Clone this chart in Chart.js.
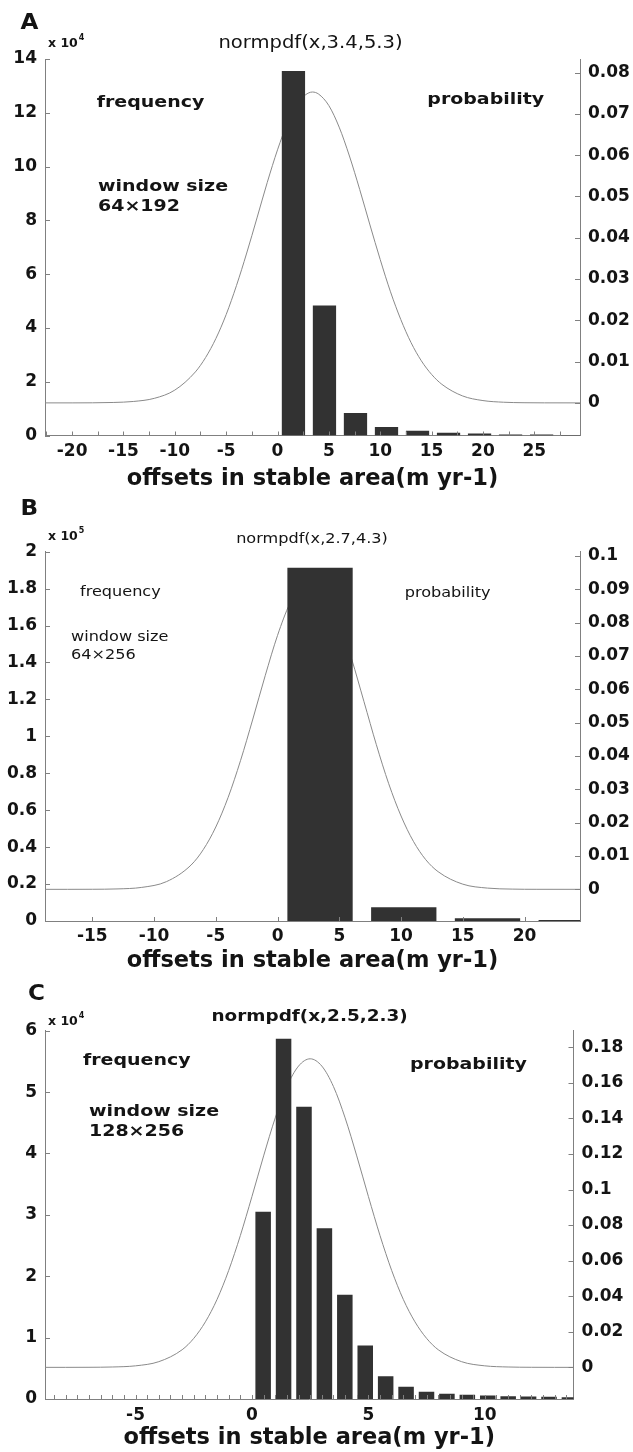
<!DOCTYPE html>
<html>
<head>
<meta charset="utf-8">
<title>offsets in stable area</title>
<script src="https://cdn.jsdelivr.net/npm/chart.js@4.4.0/dist/chart.umd.min.js"></script>
<style>
  html, body { margin: 0; padding: 0; background: #fff; }
  canvas { display: block; }
</style>
</head>
<body>
<canvas id="panelA" width="633" height="493"></canvas>
<canvas id="panelB" width="633" height="482"></canvas>
<canvas id="panelC" width="633" height="477"></canvas>
<script>
// ---- panel A: window 64x192, counts in units of 1e4 ----
const binsA = [1.55, 4.57, 7.59, 10.61, 13.63, 16.65, 19.67, 22.69, 25.71, 28.73];
const countsA = [13.55, 4.83, 0.84, 0.32, 0.18, 0.10, 0.07, 0.04, 0.04, 0.02];
// normpdf(x,3.4,5.3)
const curveXA = [-22.64, -20, -18, -16, -14, -12, -10, -8, -7, -6, -5, -4, -3, -2, -1, 0, 1, 2, 3.4, 4, 5, 6, 7, 8, 9, 10, 11, 12, 13, 14, 15, 16, 18, 20, 22, 24, 26, 29.45];
const curveYA = [0, 0, 0.00002, 0.0001, 0.00035, 0.0011, 0.0031, 0.0075, 0.0110, 0.0156, 0.0214, 0.0284, 0.0363, 0.0448, 0.0534, 0.0613, 0.0680, 0.0727, 0.0753, 0.0748, 0.0720, 0.0668, 0.0598, 0.0517, 0.0431, 0.0347, 0.0269, 0.0202, 0.0146, 0.0102, 0.0069, 0.0045, 0.0017, 0.00056, 0.00016, 0.00004, 0.00001, 0];

// ---- panel B: window 64x256, counts in units of 1e5 ----
const binsB = [3.44, 10.22, 17.0, 23.78];
const countsB = [1.913, 0.074, 0.015, 0.006];
// normpdf(x,2.7,4.3)
const curveXB = [-18.83, -17, -15, -13, -11, -9, -7, -6, -5, -4, -3, -2, -1, 0, 1, 2, 2.7, 3, 4, 5, 6, 7, 8, 9, 10, 11, 12, 13, 15, 17, 19, 21, 24.49];
const curveYB = [0, 0, 0.00002, 0.00012, 0.00058, 0.0023, 0.0073, 0.0120, 0.0187, 0.0276, 0.0386, 0.0511, 0.0641, 0.0762, 0.0858, 0.0916, 0.0928, 0.0926, 0.0887, 0.0804, 0.0691, 0.0563, 0.0434, 0.0317, 0.0220, 0.0144, 0.0089, 0.0053, 0.00155, 0.00037, 0.00007, 0.00001, 0];

// ---- panel C: window 128x256, counts in units of 1e4 ----
const binsC = [0.48, 1.357, 2.234, 3.111, 3.988, 4.865, 5.742, 6.619, 7.496, 8.373, 9.25, 10.127, 11.004, 11.881, 12.758, 13.635];
const countsC = [3.05, 5.87, 4.76, 2.78, 1.70, 0.87, 0.37, 0.20, 0.12, 0.086, 0.07, 0.055, 0.045, 0.04, 0.035, 0.03];
// normpdf(x,2.5,2.3)
const curveXC = [-8.89, -8, -7, -6, -5, -4, -3, -2.5, -2, -1.5, -1, -0.5, 0, 0.5, 1, 1.5, 2, 2.5, 3, 3.5, 4, 4.5, 5, 5.5, 6, 6.5, 7, 7.5, 8, 9, 10, 11, 12, 13, 13.81];
const curveYC = [0, 0, 0.00003, 0.0002, 0.00085, 0.0032, 0.0099, 0.0163, 0.0256, 0.0382, 0.0545, 0.0741, 0.0961, 0.1189, 0.1403, 0.1579, 0.1694, 0.1735, 0.1694, 0.1579, 0.1403, 0.1189, 0.0961, 0.0741, 0.0545, 0.0382, 0.0256, 0.0163, 0.0099, 0.0032, 0.00085, 0.0002, 0.00003, 0, 0];

const xTitle = 'offsets in stable area(m yr-1)';

const FONT = 'DejaVu Sans';
const AXIS_GREY = '#808080';
const CURVE_GREY = '#8a8a8a';
const BAR_FILL = '#323232';
const INK = '#141414';

function fmt(v) { return String(Math.round(v * 1000) / 1000); }

// MATLAB-style inward tick marks
const tickMarks = {
  id: 'tickMarks',
  afterDraw(chart) {
    const ctx = chart.ctx, a = chart.chartArea, s = chart.scales;
    ctx.save();
    ctx.strokeStyle = AXIS_GREY;
    ctx.lineWidth = 1;
    ctx.beginPath();
    s.x.ticks.forEach(t => {
      const px = Math.round(s.x.getPixelForValue(t.value)) + 0.5;
      ctx.moveTo(px, a.bottom); ctx.lineTo(px, a.bottom - 4);
    });
    s.y.ticks.forEach(t => {
      const py = Math.round(s.y.getPixelForValue(t.value)) + 0.5;
      ctx.moveTo(a.left, py); ctx.lineTo(a.left + 5, py);
    });
    s.y2.ticks.forEach(t => {
      const py = Math.round(s.y2.getPixelForValue(t.value)) + 0.5;
      ctx.moveTo(a.right, py); ctx.lineTo(a.right - 5, py);
    });
    ctx.stroke();
    ctx.restore();
  }
};

// free text on the panel (labels, exponent, notes)
function notesPlugin(items) {
  return {
    id: 'notes',
    afterDraw(chart) {
      const ctx = chart.ctx;
      items.forEach(n => {
        const sx = n.sx || 1;
        ctx.save();
        ctx.fillStyle = INK;
        ctx.font = n.font;
        ctx.textBaseline = 'middle';
        ctx.textAlign = 'left';
        const w = ctx.measureText(n.text).width;
        const x0 = n.align === 'center' ? n.x - w * sx / 2 : n.x;
        ctx.translate(x0, n.y);
        ctx.scale(sx, 1);
        ctx.fillText(n.text, 0, 0);
        if (n.sup) {
          ctx.font = n.supFont;
          ctx.fillText(n.sup, w + 1, -6);
        }
        ctx.restore();
      });
    }
  };
}

function buildPanel(id, p) {
  const tickFont = { family: FONT, size: 17, weight: 'bold' };
  return new Chart(document.getElementById(id), {
    type: 'bar',
    data: {
      datasets: [
        {
          type: 'bar',
          data: p.bins.map((b, i) => ({ x: b, y: p.counts[i] })),
          xAxisID: 'xb',
          yAxisID: 'y',
          backgroundColor: BAR_FILL,
          borderWidth: 0,
          grouped: false,
          barPercentage: p.barPct,
          categoryPercentage: 1,
          order: 1
        },
        {
          type: 'line',
          data: p.curveX.map((x, i) => ({ x: x, y: p.curveY[i] })),
          xAxisID: 'x',
          yAxisID: 'y2',
          borderColor: CURVE_GREY,
          borderWidth: 1,
          pointRadius: 0,
          cubicInterpolationMode: 'monotone',
          fill: false,
          order: 2
        }
      ]
    },
    options: {
      responsive: false,
      animation: false,
      events: [],
      layout: { padding: { top: p.top, left: 0, right: 0, bottom: 0 } },
      plugins: { legend: { display: false }, tooltip: { enabled: false } },
      scales: {
        x: {
          type: 'linear', position: 'bottom', offset: false,
          min: p.xMin, max: p.xMax,
          grid: { display: false, drawTicks: false, offset: false },
          border: { display: true, color: AXIS_GREY, width: 1 },
          ticks: {
            stepSize: p.xStep, includeBounds: false, autoSkip: false, maxRotation: 0,
            padding: p.xPad, font: tickFont, color: INK,
            callback: v => Math.abs(v / 5 - Math.round(v / 5)) < 1e-6 ? String(Math.round(v)) : ''
          },
          title: {
            display: true, text: xTitle, color: INK,
            font: { family: FONT, size: 22.5, weight: 'bold' },
            padding: { top: 0, bottom: 0 }
          },
          afterFit: s => { s.height = p.xH; }
        },
        // hidden twin of x for the bars: no ticks, so bar width follows the bin spacing
        xb: {
          type: 'linear', display: false, offset: false,
          min: p.xMin, max: p.xMax,
          grid: { offset: false },
          afterBuildTicks: s => { s.ticks = []; }
        },
        y: {
          type: 'linear', position: 'left',
          min: 0, max: p.yMax,
          grid: { display: false, drawTicks: false },
          border: { display: true, color: AXIS_GREY, width: 1 },
          ticks: { stepSize: p.yStep, includeBounds: false, padding: 8, font: tickFont, color: INK, callback: v => fmt(v) },
          afterFit: s => { s.width = p.leftW; }
        },
        y2: {
          type: 'linear', position: 'right',
          min: p.pMin, max: p.pMax,
          grid: { display: false, drawTicks: false },
          border: { display: true, color: AXIS_GREY, width: 1 },
          ticks: { stepSize: p.pStep, includeBounds: false, padding: 8, font: tickFont, color: INK, callback: v => fmt(v) },
          afterFit: s => { s.width = p.rightW; }
        }
      }
    },
    plugins: [tickMarks, notesPlugin(p.notes)]
  });
}

const boldNote = 'bold 16.5px ' + FONT;

buildPanel('panelA', {
  bins: binsA, counts: countsA, curveX: curveXA, curveY: curveYA, barPct: 0.75,
  xMin: -22.64, xMax: 29.45, xStep: 2.5, xPad: 6,
  yMax: 14, yStep: 2, pMin: -0.0079, pMax: 0.0833, pStep: 0.01,
  top: 59, xH: 57.5, leftW: 45, rightW: 53,
  notes: [
    { text: 'A', x: 20.5, y: 23.5, font: 'bold 21px ' + FONT, sx: 1.1 },
    { text: 'x 10', sup: '4', x: 48, y: 43.5, font: 'bold 12.5px ' + FONT, supFont: 'bold 8px ' + FONT },
    { text: 'normpdf(x,3.4,5.3)', x: 310.5, y: 44, align: 'center', font: '17px ' + FONT, sx: 1.15 },
    { text: 'frequency', x: 96.7, y: 103, font: boldNote, sx: 1.15 },
    { text: 'probability', x: 427.3, y: 100, font: boldNote, sx: 1.15 },
    { text: 'window size', x: 98, y: 187, font: boldNote, sx: 1.15 },
    { text: '64×192', x: 98, y: 206.5, font: boldNote, sx: 1.15 }
  ]
});

buildPanel('panelB', {
  bins: binsB, counts: countsB, curveX: curveXB, curveY: curveYB, barPct: 0.78,
  xMin: -18.83, xMax: 24.49, xStep: 5, xPad: 5,
  yMax: 2, yStep: 0.2, pMin: -0.0095, pMax: 0.1013, pStep: 0.01,
  top: 58.7, xH: 54, leftW: 45, rightW: 53,
  notes: [
    { text: 'B', x: 20.5, y: 17, font: 'bold 21px ' + FONT, sx: 1.1 },
    { text: 'x 10', sup: '5', x: 48, y: 43.7, font: 'bold 12.5px ' + FONT, supFont: 'bold 8px ' + FONT },
    { text: 'normpdf(x,2.7,4.3)', x: 312, y: 46.3, align: 'center', font: '14px ' + FONT, sx: 1.15 },
    { text: 'frequency', x: 80, y: 99.7, font: '14px ' + FONT, sx: 1.15 },
    { text: 'probability', x: 404.7, y: 100.3, font: '14px ' + FONT, sx: 1.15 },
    { text: 'window size', x: 71, y: 144.7, font: '14px ' + FONT, sx: 1.15 },
    { text: '64×256', x: 71, y: 162.7, font: '14px ' + FONT, sx: 1.15 }
  ]
});

buildPanel('panelC', {
  bins: binsC, counts: countsC, curveX: curveXC, curveY: curveYC, barPct: 0.76,
  xMin: -8.89, xMax: 13.81, xStep: 0.5, xPad: 6,
  yMax: 6, yStep: 1, pMin: -0.0178, pMax: 0.1893, pStep: 0.02,
  top: 55.7, xH: 53, leftW: 45, rightW: 59.5,
  notes: [
    { text: 'C', x: 28, y: 20, font: 'bold 21px ' + FONT, sx: 1.1 },
    { text: 'x 10', sup: '4', x: 48, y: 46.7, font: 'bold 12.5px ' + FONT, supFont: 'bold 8px ' + FONT },
    { text: 'normpdf(x,2.5,2.3)', x: 309.6, y: 41.7, align: 'center', font: 'bold 16px ' + FONT, sx: 1.15 },
    { text: 'frequency', x: 83, y: 86, font: boldNote, sx: 1.15 },
    { text: 'probability', x: 410, y: 90, font: boldNote, sx: 1.15 },
    { text: 'window size', x: 89, y: 136.7, font: boldNote, sx: 1.15 },
    { text: '128×256', x: 89, y: 156.7, font: boldNote, sx: 1.15 }
  ]
});
</script>
</body>
</html>
